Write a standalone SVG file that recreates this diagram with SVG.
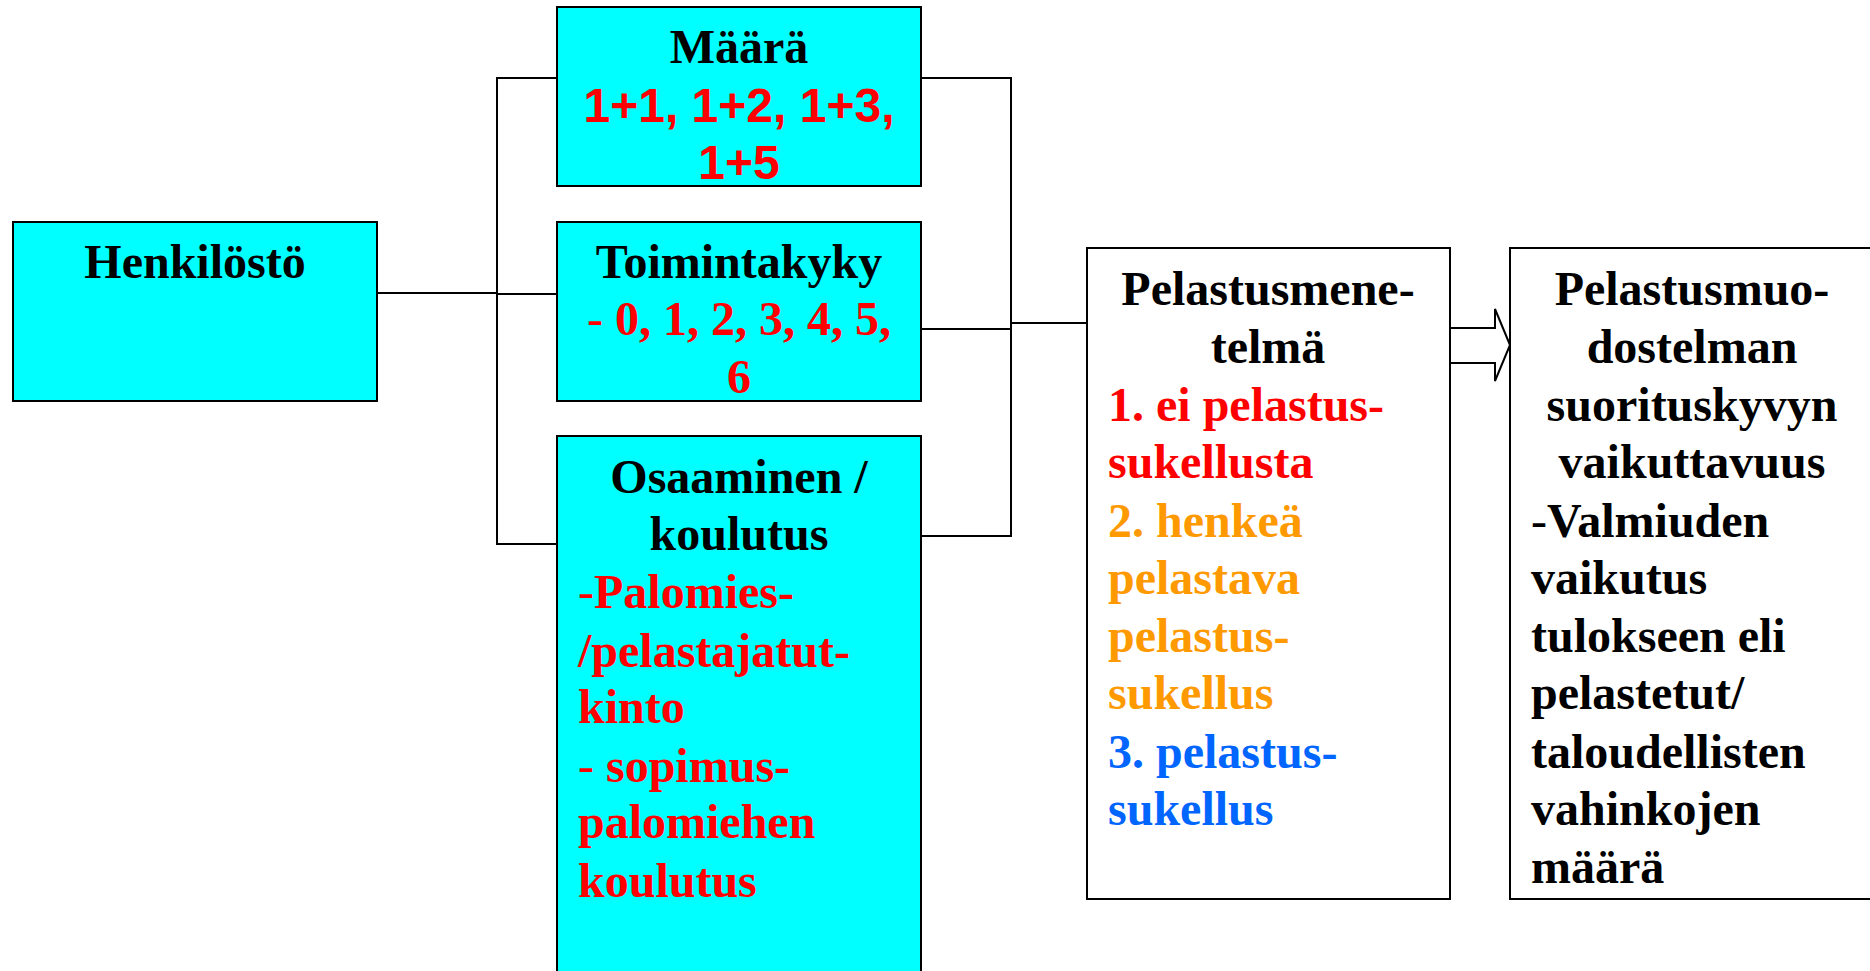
<svg xmlns="http://www.w3.org/2000/svg" width="1870" height="971" viewBox="0 0 1870 971">
<style>
.box{fill:#00FFFF;stroke:#000;stroke-width:2}
.wbox{fill:#fff;stroke:#000;stroke-width:2}
.ln{fill:none;stroke:#000;stroke-width:2}
text{font-family:"Liberation Serif","Times New Roman",serif;font-weight:bold;font-size:48px}
.c{text-anchor:middle}
.k{fill:#000}
.r{fill:#FF0000}
.o{fill:#FF9900}
.b{fill:#0066FF}
.sans{font-family:"Liberation Sans",Arial,sans-serif}
.n{font-weight:normal}
</style>
<rect width="1870" height="971" fill="#fff"/>
<g id="connectors">
<polyline class="ln" points="377,293 497,293"/>
<polyline class="ln" points="557,78 497,78 497,544 557,544"/>
<polyline class="ln" points="497,294 557,294"/>
<polyline class="ln" points="921,78 1011,78 1011,536 921,536"/>
<polyline class="ln" points="921,329 1011,329"/>
<polyline class="ln" points="1011,323 1087,323"/>
</g>
<g id="henkilosto">
<rect class="box" x="13" y="222" width="364" height="179"/>
<text class="c k" x="195" y="278">Henkilöstö</text>
</g>
<g id="maara">
<rect class="box" x="557" y="7" width="364" height="179"/>
<text class="c k" x="739" y="63">Määrä</text>
<text class="c r sans" x="739" y="122">1+1, 1+2, 1+3,</text>
<text class="c r sans" x="739" y="179">1+5</text>
</g>
<g id="toimintakyky">
<rect class="box" x="557" y="222" width="364" height="179"/>
<text class="c k" x="739" y="278">Toimintakyky</text>
<text class="c r" x="739" y="335"><tspan class="n">-</tspan> 0, 1, 2, 3, 4, 5,</text>
<text class="c r" x="739" y="393">6</text>
</g>
<g id="osaaminen">
<rect class="box" x="557" y="436" width="364" height="545"/>
<text class="c k" x="739" y="493">Osaaminen /</text>
<text class="c k" x="739" y="550">koulutus</text>
<text class="r" x="578" y="608"><tspan class="n">-</tspan>Palomies-</text>
<text class="r" x="578" y="667">/pelastajatut-</text>
<text class="r" x="578" y="723">kinto</text>
<text class="r" x="578" y="782"><tspan class="n">-</tspan> sopimus-</text>
<text class="r" x="578" y="838">palomiehen</text>
<text class="r" x="578" y="897">koulutus</text>
</g>
<g id="pelastusmenetelma">
<rect class="wbox" x="1087" y="248" width="363" height="651"/>
<text class="c k" x="1268" y="305">Pelastusmene-</text>
<text class="c k" x="1268" y="363">telmä</text>
<text class="r" x="1108" y="421">1. ei pelastus-</text>
<text class="r" x="1108" y="478">sukellusta</text>
<text class="o" x="1108" y="537">2. henkeä</text>
<text class="o" x="1108" y="594">pelastava</text>
<text class="o" x="1108" y="652">pelastus-</text>
<text class="o" x="1108" y="709">sukellus</text>
<text class="b" x="1108" y="768">3. pelastus-</text>
<text class="b" x="1108" y="825">sukellus</text>
</g>
<g id="arrow">
<polygon class="wbox" points="1450,328 1495,328 1495,309 1510,345 1495,381 1495,363 1450,363"/>
</g>
<g id="vaikuttavuus">
<rect class="wbox" x="1510" y="248" width="380" height="651"/>
<text class="c k" x="1692" y="305">Pelastusmuo-</text>
<text class="c k" x="1692" y="363">dostelman</text>
<text class="c k" x="1692" y="421">suorituskyvyn</text>
<text class="c k" x="1692" y="478">vaikuttavuus</text>
<text class="k" x="1531" y="537"><tspan class="n">-</tspan>Valmiuden</text>
<text class="k" x="1531" y="594">vaikutus</text>
<text class="k" x="1531" y="652">tulokseen eli</text>
<text class="k" x="1531" y="709">pelastetut/</text>
<text class="k" x="1531" y="768">taloudellisten</text>
<text class="k" x="1531" y="825">vahinkojen</text>
<text class="k" x="1531" y="883">määrä</text>
</g>
</svg>
